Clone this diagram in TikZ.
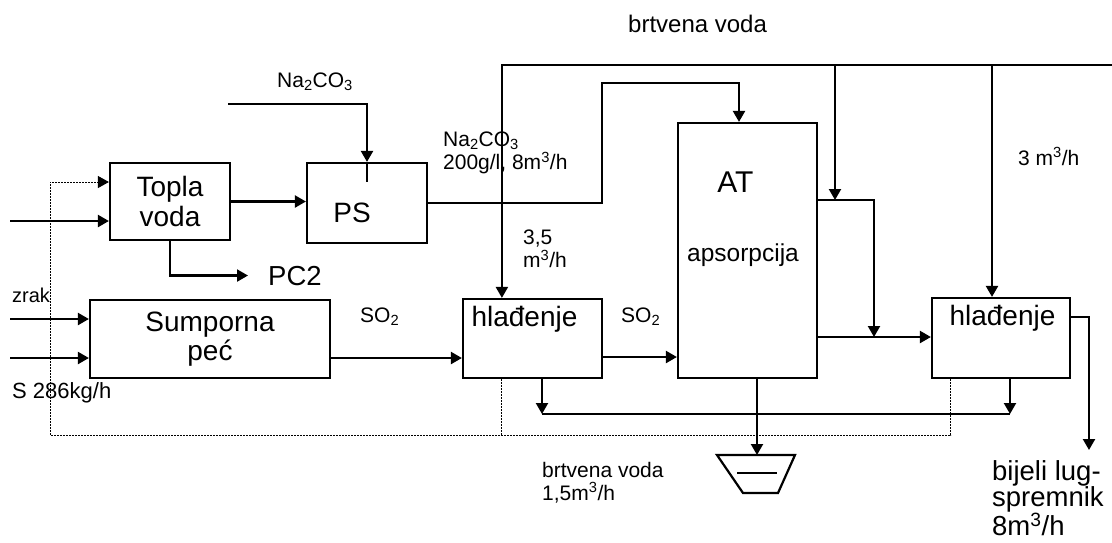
\documentclass[tikz,border=0pt]{standalone}
\usepackage{fontspec}
\setmainfont{Liberation Sans}
\usetikzlibrary{arrows.meta,calc,positioning}
\def\fb{\fontsize{28}{30}\selectfont}
\def\fs{\fontsize{21}{23}\selectfont}
\def\nac{Na\textsubscript{2}CO\textsubscript{3}}
\def\mh{m\textsuperscript{3}/h}

\begin{document}
\begin{tikzpicture}[x=1pt,y=-1pt,
    box/.style={draw,line width=2.2pt,inner sep=0pt,font=\fb},
    pipe/.style={line width=2.2pt},
    tip/.style={-{Triangle[length=11pt,width=12pt]}},
    flow/.style={pipe,tip},
    recirc/.style={line width=0.9pt,dash pattern=on 2pt off 1pt},
    txt/.style={inner sep=0pt,font=\fs}]
    \useasboundingbox (0,0) rectangle (1112,542);
    % process units
    \node[box,minimum width=120pt,minimum height=77pt,align=center] (topla) at (170,201.5) {Topla\\voda};
    \node[box,minimum width=120pt,minimum height=80pt] (ps) at (367,203) {};
    \node[font=\fb,anchor=base] (pslbl) at ([xshift=-15pt,yshift=-19pt]ps.center) {PS};
    \node[box,minimum width=240pt,minimum height=78pt,align=center,font=\fontsize{28}{29}\selectfont] (pec) at (210,339) {Sumporna\\peć};
    \node[box,minimum width=139pt,minimum height=79pt] (hl1) at (532.5,338.5) {};
    \node[font=\fb,anchor=base] (hl1lbl) at ([xshift=-8pt,yshift=12.5pt]hl1.center) {hlađenje};
    \node[box,minimum width=139pt,minimum height=255pt] (at) at (747.5,250.5) {};
    \node[font=\fontsize{30}{32}\selectfont,anchor=base] (atlbl) at ([xshift=-12pt,yshift=58.5pt]at.center) {AT};
    \node[font=\fontsize{24.5}{26}\selectfont,anchor=base] (apslbl) at ([xshift=-4.5pt,yshift=-10.5pt]at.center) {apsorpcija};
    \node[box,minimum width=138pt,minimum height=80pt] (hl2) at (1001,338) {};
    \node[font=\fb,anchor=base] (hl2lbl) at ([xshift=1.5pt,yshift=13pt]hl2.center) {hlađenje};
    % stream labels
    \node[txt,anchor=base west,font=\fontsize{24}{26}\selectfont] (bvtop) at (628,32) {brtvena voda};
    \node[txt,anchor=base west] (natop) at (277,87) {\nac};
    \node[txt,anchor=north west,align=left] (naps) at (443,132) {\nac\\200g/l, 8\mh};
    \node[txt,anchor=north west,align=left] (q35) at (523,230) {3,5\\\mh};
    \node[txt,anchor=base west] (q3) at (1018,165) {3 \mh};
    \node[txt,anchor=base west] (so2a) at (360,322) {SO\textsubscript{2}};
    \node[txt,anchor=base west] (so2b) at (621,322) {SO\textsubscript{2}};
    \node[txt,anchor=base west,font=\fontsize{20}{22}\selectfont] (zrak) at (12,302) {zrak};
    \node[txt,anchor=base west,font=\fontsize{22}{24}\selectfont] (sulf) at (12,398) {S 286kg/h};
    \node[txt,anchor=base west,font=\fontsize{27.5}{29}\selectfont] (pc2) at (268,285) {PC2};
    \node[txt,anchor=north west,align=left] (bvbot) at (542,462) {brtvena voda\\1,5\mh};
    \node[txt,anchor=north west,align=left,font=\fontsize{27.5}{25}\selectfont] (lug) at (992,460) {bijeli lug-\\spremnik\\8\mh};
    % free ends and junctions
    \coordinate (in1) at (10,221);
    \coordinate (zrin) at (10,319);
    \coordinate (sin) at (10,358);
    \coordinate (nain) at (228,104);
    \coordinate (bv) at (1112,65);
    \coordinate (j1) at (835,65);
    \coordinate (j2) at (835,200);
    \coordinate (j3) at (874,337);
    \coordinate (j4) at (992,65);
    \coordinate (k1) at (602,83);
    \coordinate (r1) at (542,414);
    \coordinate (r2) at (1010,414);
    \coordinate (d1) at (50,435);
    \coordinate (lugin) at (1089,450);
    \coordinate (tank) at (757,455);
    % streams
    \draw[flow] (in1) -- (in1 -| topla.west);
    \draw[flow] (topla.east) -- (topla.east -| ps.west);
    \draw[flow] (nain) -| (ps.north);
    \draw[pipe] (ps.north) -- ([yshift=-20pt]ps.north);
    \draw[flow] (topla.south) |- ([xshift=-20pt]pc2.west);
    \draw[flow] (zrin) -- (zrin -| pec.west);
    \draw[flow] (sin) -- (sin -| pec.west);
    \draw[flow] (sin -| pec.east) -- (sin -| hl1.west);
    \draw[flow] ([yshift=-18.5pt]hl1.east) -- ([yshift=-18.5pt]hl1.east -| at.west);
    \draw[flow] (ps.east) -| (k1) -| ([xshift=-8.5pt]at.north);
    \draw[flow] (bv) -| ([xshift=40pt]hl1.north west);
    \draw[flow] (j1) -- (j2);
    \draw[flow] (j2 -| at.east) -| (j3);
    \draw[flow] (j3 -| at.east) -- (j3 -| hl2.west);
    \draw[flow] (j4) -- (j4 |- hl2.north);
    \draw[flow] ([yshift=21pt]hl2.east) -| (lugin);
    \draw[pipe] (r1) -- (r2);
    \draw[flow] (r1 |- hl1.south) -- (r1);
    \draw[flow] (r2 |- hl2.south) -- (r2);
    \draw[flow] (tank |- at.south) -- (tank);
    % tank
    \draw[pipe] (717,455) -- (795,455) -- (778,493) -- (743,493) -- cycle;
    \draw[pipe] (737,473) -- (777,473);
    % recirculation
    \draw[recirc,tip] ([xshift=20pt]hl2.south west) |- (d1) |- ([yshift=19.5pt]topla.west);
    \draw[recirc] ([xshift=40pt]hl1.south west) -- ([xshift=40pt]hl1.south west |- d1);
\end{tikzpicture}
\end{document}
